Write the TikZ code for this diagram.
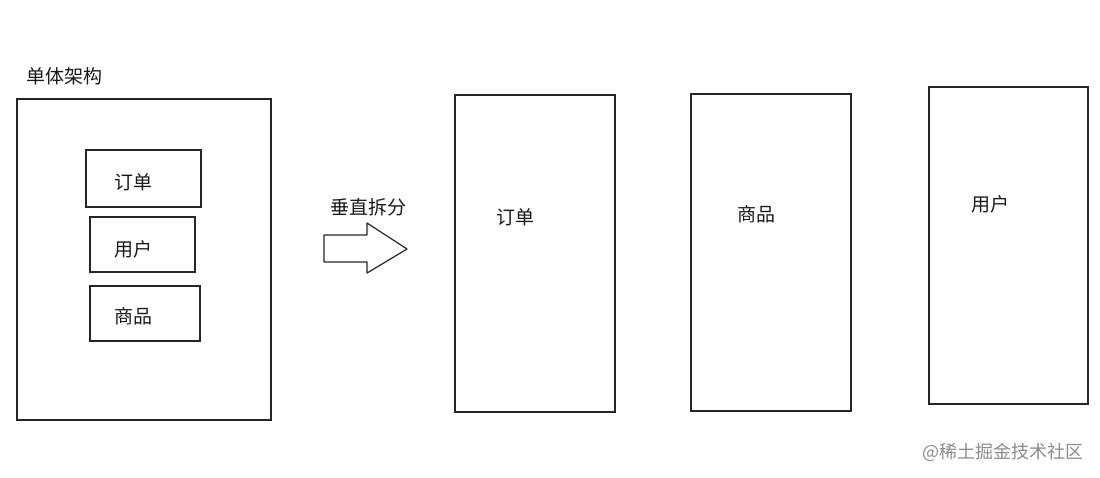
\documentclass[tikz,border=0pt]{standalone}
\usepackage{fontspec}
\setmainfont{Noto Sans CJK SC}
\begin{document}
\begin{tikzpicture}[x=1pt, y=-1pt,
  box/.style={draw=black!85, line width=1.2pt, rectangle, inner sep=0pt},
  label/.style={font=\fontsize{19}{21}\selectfont, text=black!90, inner sep=0pt}]
\useasboundingbox[fill=white] (0,0) rectangle (1100,478);

\node[label] (title) at (65,76) {单体架构};
\node[box, minimum width=254pt, minimum height=321pt] (mono) at (144,259.5) {};

\node[box, minimum width=115pt, minimum height=57pt] (order) at (143.5,178.5) {};
\node[box, minimum width=105pt, minimum height=55pt] (user) at (142.5,244.5) {};
\node[box, minimum width=110pt, minimum height=55pt] (goods) at (145,313.5) {};
\node[label] at (133,182) {订单};
\node[label] at (133,249) {用户};
\node[label] at (133,316) {商品};

\node[label] (split) at (368,207) {垂直拆分};
\draw[black!85, line width=1.2pt, line join=round]
  (324,235) -- (367,235) -- (367,223) -- (407,249) -- (367,273) -- (367,262) -- (324,262) -- cycle;

\node[box, minimum width=160pt, minimum height=317pt] (ordersvc) at (535,253.5) {};
\node[box, minimum width=160pt, minimum height=317pt] (goodssvc) at (771,252.5) {};
\node[box, minimum width=159pt, minimum height=317pt] (usersvc) at (1008.5,245.5) {};

\node[label] at (515,217) {订单};
\node[label] at (756,214) {商品};
\node[label] at (990,204) {用户};

\node[font=\fontsize{18}{20}\selectfont, text=black!45, inner sep=0pt] (mark) at (1003,452) {@稀土掘金技术社区};
\end{tikzpicture}
\end{document}
